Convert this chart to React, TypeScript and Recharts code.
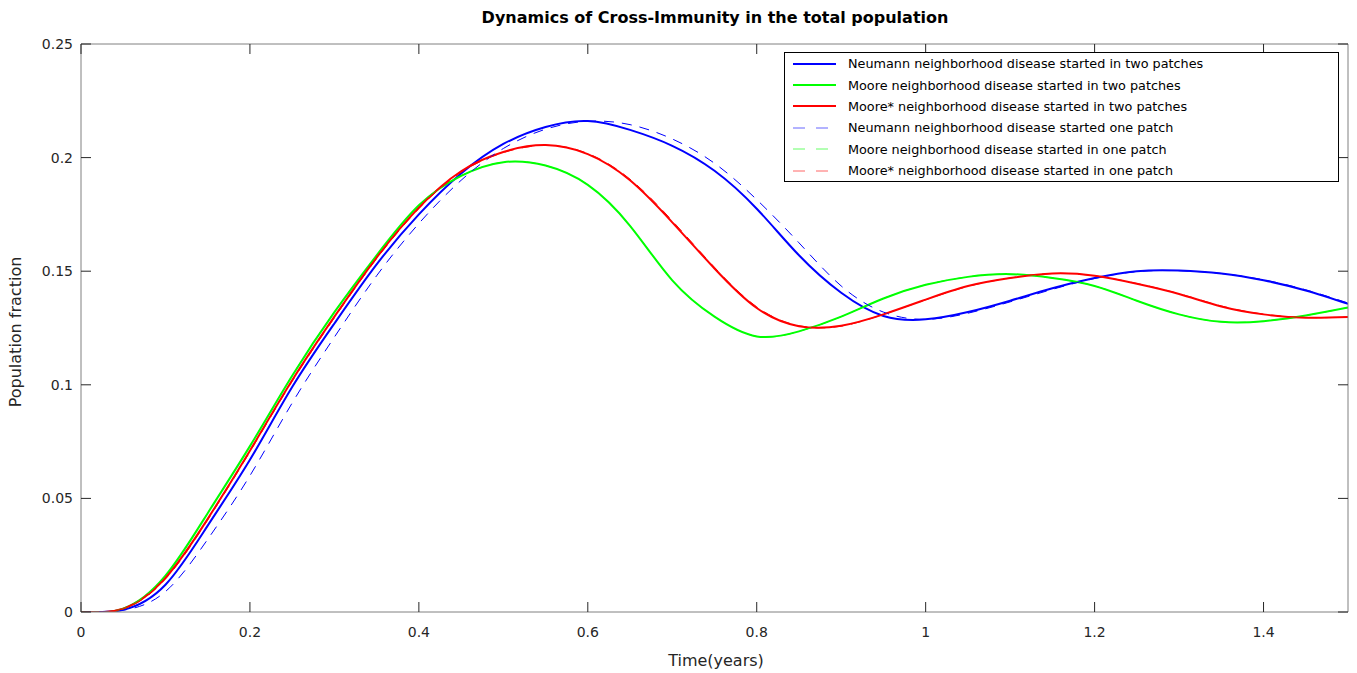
import React from 'react';
import { LineChart, Line, XAxis, YAxis, Legend } from 'recharts';

const timeYears = [0, 0.05, 0.1, 0.15, 0.2, 0.25, 0.3, 0.35, 0.4, 0.45, 0.5, 0.55, 0.6, 0.65, 0.7, 0.75, 0.8, 0.85, 0.9, 0.95, 1.0, 1.05, 1.1, 1.15, 1.2, 1.25, 1.3, 1.35, 1.4, 1.45, 1.5];

const neumannTwo = [0, 0.001, 0.012, 0.038, 0.067, 0.099, 0.127, 0.153, 0.175, 0.193, 0.206, 0.2135, 0.2161, 0.2122, 0.2052, 0.1942, 0.1775, 0.157, 0.1405, 0.1303, 0.1288, 0.132, 0.137, 0.1425, 0.147, 0.15, 0.1503, 0.149, 0.146, 0.1415, 0.1356];
const mooreTwo = [0, 0.0015, 0.016, 0.0435, 0.073, 0.104, 0.132, 0.157, 0.179, 0.192, 0.198, 0.1965, 0.188, 0.17, 0.146, 0.13, 0.1213, 0.1235, 0.13, 0.138, 0.144, 0.1475, 0.1487, 0.147, 0.1435, 0.137, 0.131, 0.1277, 0.128, 0.1305, 0.134];
const mooreStarTwo = [0, 0.0015, 0.015, 0.041, 0.071, 0.102, 0.13, 0.156, 0.178, 0.194, 0.2025, 0.2055, 0.2015, 0.19, 0.1715, 0.1512, 0.1338, 0.1258, 0.126, 0.131, 0.1375, 0.1435, 0.147, 0.149, 0.148, 0.1445, 0.14, 0.1345, 0.131, 0.1295, 0.1298];
const neumannOne = [0, 0.0008, 0.009, 0.032, 0.06, 0.092, 0.121, 0.148, 0.171, 0.19, 0.204, 0.2125, 0.216, 0.2145, 0.2082, 0.1975, 0.1815, 0.1625, 0.1435, 0.132, 0.1288, 0.1315, 0.1365, 0.142, 0.1468, 0.1498, 0.1502, 0.149, 0.1462, 0.1418, 0.136];
const mooreOne = [0, 0.0015, 0.016, 0.0435, 0.073, 0.104, 0.132, 0.157, 0.179, 0.192, 0.198, 0.1965, 0.188, 0.17, 0.146, 0.13, 0.1213, 0.1235, 0.13, 0.138, 0.144, 0.1475, 0.1487, 0.147, 0.1435, 0.137, 0.131, 0.1277, 0.128, 0.1305, 0.134];
const mooreStarOne = [0, 0.0014, 0.0145, 0.0405, 0.0705, 0.1015, 0.1295, 0.1555, 0.1775, 0.1935, 0.2022, 0.2054, 0.2018, 0.1905, 0.1722, 0.1517, 0.1343, 0.126, 0.1258, 0.131, 0.1374, 0.1433, 0.147, 0.149, 0.148, 0.1446, 0.1401, 0.1347, 0.1311, 0.1296, 0.1298];

const xTicks = [0, 0.2, 0.4, 0.6, 0.8, 1, 1.2, 1.4];
const yTicks = [0, 0.05, 0.1, 0.15, 0.2, 0.25];

const seriesInfo = [
  { key: 'neumannTwo', name: 'Neumann neighborhood disease started in two patches', color: '#0000ff', dash: undefined as string | undefined, width: 2 },
  { key: 'mooreTwo', name: 'Moore neighborhood disease started in two patches', color: '#00ff00', dash: undefined, width: 2 },
  { key: 'mooreStarTwo', name: 'Moore* neighborhood disease started in two patches', color: '#ff0000', dash: undefined, width: 2 },
  { key: 'neumannOne', name: 'Neumann neighborhood disease started one patch', color: '#0000ff', dash: '10 8', width: 1 },
  { key: 'mooreOne', name: 'Moore neighborhood disease started in one patch', color: '#00ff00', dash: '10 8', width: 1 },
  { key: 'mooreStarOne', name: 'Moore* neighborhood disease started in one patch', color: '#ff0000', dash: '10 8', width: 1 },
];

const seriesValues: Record<string, number[]> = { neumannTwo, mooreTwo, mooreStarTwo, neumannOne, mooreOne, mooreStarOne };

const data = timeYears.map((t, i) => {
  const row: Record<string, number> = { t };
  Object.keys(seriesValues).forEach((k) => { row[k] = seriesValues[k][i]; });
  return row;
});

const FONT = '"DejaVu Sans", sans-serif';

const fmt = (v: number) => String(v);

const BottomTick = (props: any) => {
  const { x, y, payload } = props;
  return (
    <g>
      <line x1={x} y1={y} x2={x} y2={y - 10} stroke="#262626" strokeWidth={1} />
      <text x={x} y={y + 25} textAnchor="middle" fontSize={14} fontFamily={FONT} fill="#262626">{fmt(payload.value)}</text>
    </g>
  );
};
const TopTick = (props: any) => {
  const { x, y } = props;
  return <line x1={x} y1={y} x2={x} y2={y + 10} stroke="#262626" strokeWidth={1} />;
};
const LeftTick = (props: any) => {
  const { x, y, payload } = props;
  return (
    <g>
      <line x1={x} y1={y} x2={x + 10} y2={y} stroke="#262626" strokeWidth={1} />
      <text x={x - 8} y={y + 5} textAnchor="end" fontSize={14} fontFamily={FONT} fill="#262626">{fmt(payload.value)}</text>
    </g>
  );
};
const RightTick = (props: any) => {
  const { x, y } = props;
  return <line x1={x} y1={y} x2={x - 10} y2={y} stroke="#262626" strokeWidth={1} />;
};

const LegendBox = () => (
  <div style={{ width: 553, height: 128, border: '1px solid #000', background: '#fff', fontFamily: FONT, fontSize: 12.8, color: '#000' }}>
    {seriesInfo.map((s) => (
      <div key={s.key} style={{ height: 21.4, display: 'flex', alignItems: 'center' }}>
        <svg width={60} height={10} style={{ display: 'block' }}>
          <line x1={8} y1={5} x2={51} y2={5} stroke={s.color} strokeWidth={s.width} strokeDasharray={s.dash ? '12 11' : undefined} strokeOpacity={s.dash ? 0.6 : 1} />
        </svg>
        <span style={{ marginLeft: 3, whiteSpace: 'nowrap' }}>{s.name}</span>
      </div>
    ))}
  </div>
);

export default function App() {
  return (
    <div style={{ position: 'absolute', left: 0, top: 0, width: 1357, height: 673, background: '#fff' }}>
      <LineChart width={1357} height={673} data={data} margin={{ top: 24, right: 1, bottom: 31, left: 41 }}>
        <text x={715} y={23} textAnchor="middle" fontFamily={FONT} fontSize={16} fontWeight="bold" fill="#000">Dynamics of Cross-Immunity in the total population</text>
        <text x={716} y={666} textAnchor="middle" fontFamily={FONT} fontSize={16} fill="#262626">Time(years)</text>
        <text x={21} y={332} transform="rotate(-90 21 332)" textAnchor="middle" fontFamily={FONT} fontSize={16} fill="#262626">Population fraction</text>
        <XAxis dataKey="t" type="number" domain={[0, 1.5]} ticks={xTicks} height={30} tickSize={0} tickMargin={0} tickLine={false} tick={<BottomTick />} axisLine={{ stroke: '#808080' }} interval={0} allowDataOverflow />
        <XAxis xAxisId="top" dataKey="t" orientation="top" type="number" domain={[0, 1.5]} ticks={xTicks} height={20} tickSize={0} tickMargin={0} tickLine={false} tick={<TopTick />} axisLine={{ stroke: '#808080' }} interval={0} allowDataOverflow />
        <YAxis type="number" domain={[0, 0.25]} ticks={yTicks} width={40} tickSize={0} tickMargin={0} tickLine={false} tick={<LeftTick />} axisLine={{ stroke: '#808080' }} interval={0} allowDataOverflow />
        <YAxis yAxisId="right" orientation="right" type="number" domain={[0, 0.25]} ticks={yTicks} width={8} tickSize={0} tickMargin={0} tickLine={false} tick={<RightTick />} axisLine={{ stroke: '#808080' }} interval={0} allowDataOverflow />
        {seriesInfo.map((s) => (
          <Line key={s.key} dataKey={s.key} name={s.name} type="natural" stroke={s.color} strokeWidth={s.width} strokeDasharray={s.dash} dot={false} activeDot={false} isAnimationActive={false} />
        ))}
        <Legend layout="vertical" align="center" verticalAlign="middle" content={() => <LegendBox />} wrapperStyle={{ position: 'absolute', left: 784, top: 52, width: 555, height: 130 }} />
      </LineChart>
    </div>
  );
}
